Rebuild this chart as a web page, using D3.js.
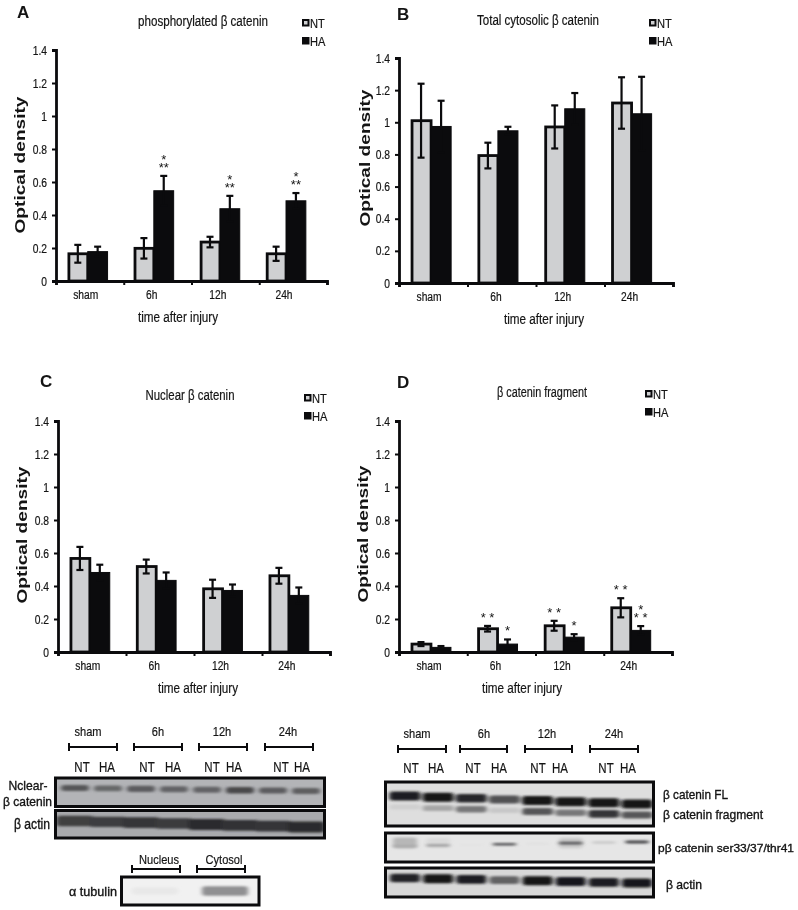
<!DOCTYPE html>
<html><head><meta charset="utf-8">
<script src="https://cdnjs.cloudflare.com/ajax/libs/d3/7.8.5/d3.min.js"></script>
<style>
html,body{margin:0;padding:0;background:#fff}
svg{display:block;filter:blur(.35px)}
text{fill:#141414}
.n{font-family:"Liberation Sans",sans-serif;stroke:#141414;stroke-width:.2px}
.s{font-family:"Liberation Sans",sans-serif}
.m{font-family:"Liberation Sans",sans-serif;stroke:#141414;stroke-width:.35px}
</style></head><body>
<svg id="c" width="798" height="910"></svg>
<script>
const categories=["sham","6h","12h","24h"];
const series=["NT","HA"];
const yTicks=[0,0.2,0.4,0.6,0.8,1,1.2,1.4];
const lanes=["NT","HA","NT","HA","NT","HA","NT","HA"];

const aNT=[0.165,0.198,0.236,0.165], aHA=[0.178,0.547,0.438,0.486];
const aNTerr=[0.054,0.062,0.032,0.043], aHAerr=[0.030,0.090,0.078,0.047];
const bNT=[1.01,0.793,0.971,1.12], bHA=[0.974,0.947,1.084,1.053];
const bNTerr=[0.23,0.08,0.134,0.16], bHAerr=[0.16,0.025,0.098,0.23];
const cNT=[0.567,0.518,0.383,0.462], cHA=[0.482,0.434,0.373,0.343];
const cNTerr=[0.07,0.042,0.055,0.048], cHAerr=[0.047,0.048,0.036,0.048];
const dNT=[0.048,0.141,0.159,0.268], dHA=[0.028,0.048,0.09,0.131];
const dNTerr=[0.012,0.017,0.03,0.058], dHAerr=[0.008,0.028,0.018,0.026];

const aStars=[[],[[],["*","**"]],[[],["*","**"]],[[],["*","**"]]];
const dStars=[[],[["* *"],["*"]],[["* *"],["*"]],[["* *"],["*","* *"]]];

// band darkness read from the blots, one per lane
const nuclearBand=[.72,.6,.68,.62,.62,.82,.68,.66];
const leftActin=[.85,.87,.93,.88,1,.95,.93,1];
const fullLength=[.95,1,.9,.7,1,1,1,1];
const fragment=[.08,.3,.55,.12,.72,.55,.9,.72];
const phospho=[.3,.38,.02,.72,.03,.7,.18,.8];
const phosphoSmear=[.24,.06,0,0,0,.14,0,0];
const rightActin=[.92,1,.95,.6,1,.98,.95,.98];
const tubulinBand=[.06,.62];

const svg=d3.select("#c");
const greyFill="#cfd0d2", ink="#0b0b0d";

function txt(g,x,y,s,o={}){
  const t=g.append("text").attr("x",x).attr("y",y).text(s)
    .attr("class",o.cls||"n").attr("font-size",o.size||13)
    .attr("text-anchor",o.anchor||"middle");
  if(o.weight)t.attr("font-weight",o.weight);
  if(o.len)t.attr("textLength",o.len).attr("lengthAdjust","spacingAndGlyphs");
  if(o.rot)t.attr("transform",`rotate(${o.rot} ${x} ${y})`);
  return t;
}

function panel(p){
  const g=svg.append("g");
  const y=d3.scaleLinear().domain([0,1.4]).range([p.y0,p.y1]);
  const x=d3.scaleBand().domain(categories).range([p.x0,p.x1]).paddingInner(.4).paddingOuter(.25).align(.36);
  const sub=d3.scaleBand().domain(series).range([0,x.bandwidth()]);
  const vals={NT:p.nt,HA:p.ha}, errs={NT:p.nte,HA:p.hae};

  series.forEach(s=>{
    const cell=g.append("g").selectAll("g").data(categories).join("g");
    cell.append("rect")
      .attr("x",c=>x(c)+sub(s)+(s==="NT"?1:0))
      .attr("width",sub.bandwidth()-(s==="NT"?1:0))
      .attr("y",(c,i)=>y(vals[s][i]))
      .attr("height",(c,i)=>y(0)-y(vals[s][i]))
      .attr("fill",s==="NT"?greyFill:ink).attr("stroke",ink).attr("stroke-width",s==="NT"?2.8:1);
  });
  series.forEach(s=>{
    const cx=c=>x(c)+sub(s)+sub.bandwidth()/2;
    const e=g.append("g").attr("stroke",ink).attr("stroke-width",2.2).selectAll("g").data(categories).join("g");
    e.append("line").attr("x1",cx).attr("x2",cx).attr("y1",(c,i)=>y(vals[s][i]+errs[s][i])).attr("y2",(c,i)=>y(vals[s][i]-errs[s][i]));
    e.append("line").attr("x1",c=>cx(c)-3.5).attr("x2",c=>cx(c)+3.5).attr("y1",(c,i)=>y(vals[s][i]+errs[s][i])).attr("y2",(c,i)=>y(vals[s][i]+errs[s][i]));
    e.append("line").attr("x1",c=>cx(c)-3.5).attr("x2",c=>cx(c)+3.5).attr("y1",(c,i)=>y(vals[s][i]-errs[s][i])).attr("y2",(c,i)=>y(vals[s][i]-errs[s][i]));
  });

  const ax=g.append("g").attr("transform",`translate(${p.x0},0)`).call(d3.axisLeft(y).tickValues(yTicks).tickFormat(String).tickSize(4).tickPadding(5));
  ax.selectAll("text").attr("class","n").attr("font-size",12.5).attr("fill","#141414");
  const tx=d3.scaleLinear().domain([0,categories.length]).range([p.x0,p.x1]);
  const bx=g.append("g").attr("transform",`translate(0,${p.y0})`).call(d3.axisBottom(tx).tickValues(d3.range(categories.length+1)).tickFormat("").tickSize(4));
  [ax,bx].forEach(a=>{a.select(".domain").attr("stroke",ink).attr("stroke-width",2.8);a.selectAll("line").attr("stroke",ink).attr("stroke-width",2);});

  categories.forEach(c=>txt(g,x(c)+x.bandwidth()/2-2,p.y0+18,c,{size:12.5}));
  txt(g,p.xlabX,p.y0+41,"time after injury",{size:15.5,len:80});
  txt(g,p.ylabX,p.ylabY,"Optical density",{cls:"s",weight:"bold",size:14.5,len:137,rot:-90});
  txt(g,p.letter[0],p.letter[1],p.name,{cls:"s",size:17,anchor:"start",weight:"bold"});
  txt(g,p.title[0],p.title[1],p.titleText,{size:14,len:p.title[2]});

  series.forEach((s,i)=>{
    const ly=p.leg[1]+i*18;
    g.append("rect").attr("x",p.leg[0]+1).attr("y",ly-3).attr("width",5.5).attr("height",5.5)
      .attr("fill",s==="NT"?greyFill:ink).attr("stroke",ink).attr("stroke-width",2);
    txt(g,p.leg[0]+8,ly+4.5,s,{size:13.5,anchor:"start"});
  });

  (p.stars||[]).forEach((grp,i)=>grp.forEach((lines,k)=>{
    if(!lines.length)return;
    const s=series[k], cx=x(categories[i])+sub(s)+sub.bandwidth()/2;
    const top=y(vals[s][i]+errs[s][i]);
    const t=g.append("text").attr("class","s").attr("font-size",13).attr("text-anchor","middle")
      .attr("y",top-(lines.length-1)*8-4);
    lines.forEach((l,j)=>t.append("tspan").attr("x",cx).attr("dy",j?8:0).text(l));
  }));
}

panel({name:"A",letter:[17,18],titleText:"phosphorylated β catenin",title:[203,26,130],leg:[302,23],x0:56,x1:327,y0:281,y1:50,
  nt:aNT,ha:aHA,nte:aNTerr,hae:aHAerr,xlabX:178,ylabX:25,ylabY:165,stars:aStars});
panel({name:"B",letter:[397,20],titleText:"Total cytosolic β catenin",title:[538,25,122],leg:[649,23],x0:399,x1:673,y0:283,y1:58,
  nt:bNT,ha:bHA,nte:bNTerr,hae:bHAerr,xlabX:544,ylabX:370,ylabY:158});
panel({name:"C",letter:[40,387],titleText:"Nuclear β catenin",title:[190,400,89],leg:[304,398],x0:58,x1:330,y0:652,y1:421,
  nt:cNT,ha:cHA,nte:cNTerr,hae:cHAerr,xlabX:198,ylabX:27,ylabY:535});
panel({name:"D",letter:[397,388],titleText:"β catenin fragment",title:[542,397,90],leg:[645,394],x0:399,x1:672,y0:652,y1:421,
  nt:dNT,ha:dHA,nte:dNTerr,hae:dHAerr,xlabX:522,ylabX:368,ylabY:534,stars:dStars});

const defs=svg.append("defs");
defs.append("filter").attr("id","b2").attr("x","-20%").attr("y","-60%").attr("width","140%").attr("height","220%")
  .append("feGaussianBlur").attr("stdDeviation","2 1.2");
let clipN=0;
function blot(b){
  const g=svg.append("g"), id="cl"+(clipN++);
  defs.append("clipPath").attr("id",id).append("rect").attr("x",b.x).attr("y",b.y).attr("width",b.w).attr("height",b.h);
  const inner=g.append("g").attr("clip-path",`url(#${id})`);
  inner.append("rect").attr("x",b.x).attr("y",b.y).attr("width",b.w).attr("height",b.h).attr("fill",b.bg);
  const lane=d3.scalePoint().domain(d3.range(b.rows[0].vals.length)).range(b.lanes);
  b.rows.forEach(r=>{
    const dark=d3.scaleLinear().domain([0,1]).range([b.bg,r.ink||"#141416"]);
    const ry=d3.scaleLinear().domain([0,r.vals.length-1]).range(r.y);
    inner.append("g").attr("filter","url(#b2)").selectAll("rect").data(r.vals).join("rect")
      .attr("x",(v,i)=>lane(i)-(r.bw||b.bw)/2).attr("width",r.bw||b.bw)
      .attr("y",(v,i)=>ry(i)-r.h/2*(.6+.4*v)).attr("height",v=>r.h*(.6+.4*v))
      .attr("rx",3).attr("fill",v=>dark(v));
  });
  g.append("rect").attr("x",b.x).attr("y",b.y).attr("width",b.w).attr("height",b.h)
    .attr("fill","none").attr("stroke",ink).attr("stroke-width",3);
}
function header(centers,y,labels,br,by){
  const g=svg.append("g");
  labels.forEach((l,i)=>txt(g,centers[i],y,l,{size:13.5}));
  br.forEach(([a,b])=>{
    const l=g.append("g").attr("stroke",ink).attr("stroke-width",2);
    l.append("line").attr("x1",a).attr("x2",b).attr("y1",by).attr("y2",by);
    l.append("line").attr("x1",a).attr("x2",a).attr("y1",by-4).attr("y2",by+4);
    l.append("line").attr("x1",b).attr("x2",b).attr("y1",by-4).attr("y2",by+4);
  });
}
function laneLabels(xs,y){
  const g=svg.append("g");
  lanes.forEach((l,i)=>txt(g,xs[i],y,l,{size:14}));
}

header([88,158,222,288],736,categories,[[69,117],[134,182],[199,247],[265,313]],747);
laneLabels([82,107,147,173,212,234,281,302],772);
blot({x:55.5,y:778,w:269,h:28.5,bg:"#b3b4b7",lanes:[75,306],bw:28,rows:[{y:[788,791],h:7,vals:nuclearBand,ink:"#333335"}]});
blot({x:55.5,y:810.5,w:269,h:27.5,bg:"#a9aaad",lanes:[75,306],bw:37,rows:[{y:[821,827],h:11,vals:leftActin,ink:"#2c2c2e"}]});
header([159,224],864,["Nucleus","Cytosol"],[[132,180],[197,245]],869);
blot({x:121.5,y:877,w:137.5,h:28,bg:"#f1f1f1",lanes:[155,225],bw:46,rows:[{y:[891,891],h:11,vals:tubulinBand,ink:"#555558"}]});

const L=svg.append("g");
txt(L,28,790,"Nclear-",{cls:"m",size:13,len:39});
txt(L,3,806,"β catenin",{cls:"m",size:13,anchor:"start",len:49});
txt(L,32,829,"β actin",{cls:"m",size:14,len:36});
txt(L,93,896,"α tubulin",{cls:"m",size:13,len:48});

header([417,484,547,614],738,categories,[[398,446],[460,507],[525,572],[590,638]],749);
laneLabels([411,436,473,499,538,560,606,628],773);
blot({x:385.5,y:782,w:268,h:44,bg:"#dedede",lanes:[405,637],bw:31,rows:[{y:[796,804],h:9,vals:fullLength},{y:[807,815],h:8,vals:fragment,ink:"#222224"}]});
blot({x:385.5,y:833,w:268,h:29,bg:"#e6e6e6",lanes:[405,637],bw:24,rows:[{y:[843,843],h:16,vals:phosphoSmear,ink:"#222224"},{y:[846,842],h:3,vals:phospho,ink:"#1c1c1e"}]});
blot({x:385.5,y:868,w:268,h:29,bg:"#d8d8d8",lanes:[405,637],bw:30,rows:[{y:[878,883],h:9,vals:rightActin}]});

const R=svg.append("g");
txt(R,663,799,"β catenin FL",{cls:"m",size:13,anchor:"start",len:65});
txt(R,663,819,"β catenin fragment",{cls:"m",size:13,anchor:"start",len:100});
txt(R,658,852,"pβ catenin ser33/37/thr41",{cls:"m",size:11.5,anchor:"start",len:136});
txt(R,666,889,"β actin",{cls:"m",size:13,anchor:"start",len:36});

// narrow the condensed labels to the width they have in the figure
svg.selectAll("text.n").each(function(){
  if(!this.getAttribute("textLength")){
    const w=this.getComputedTextLength();
    this.setAttribute("textLength",(w*.82).toFixed(1));
    this.setAttribute("lengthAdjust","spacingAndGlyphs");
  }
});
</script>
</body></html>
